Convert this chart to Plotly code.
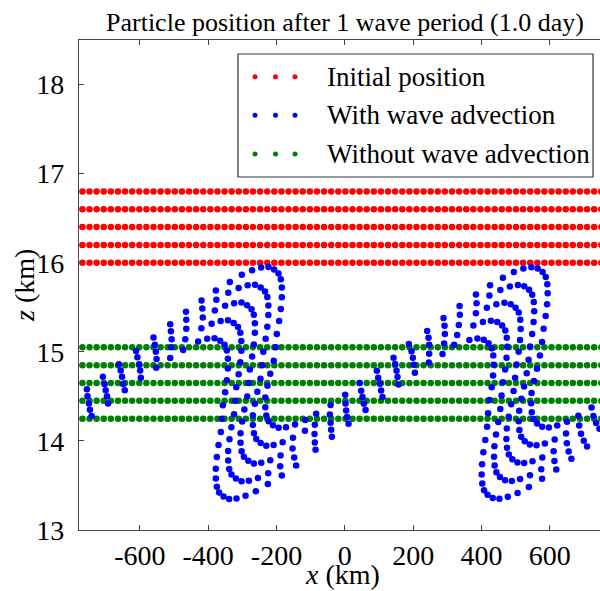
import plotly.graph_objects as go

# ---------------- data (km) ----------------
x_grid = [-768, -747.2, -726.4, -705.6, -684.8, -664, -643.2, -622.4, -601.6, -580.8,
          -560, -539.2, -518.4, -497.6, -476.8, -456, -435.2, -414.4, -393.6, -372.8,
          -352, -331.2, -310.4, -289.6, -268.8, -248, -227.2, -206.4, -185.6, -164.8,
          -144, -123.2, -102.4, -81.6, -60.8, -40, -19.2, 1.6, 22.4, 43.2,
          64, 84.8, 105.6, 126.4, 147.2, 168, 188.8, 209.6, 230.4, 251.2,
          272, 292.8, 313.6, 334.4, 355.2, 376, 396.8, 417.6, 438.4, 459.2,
          480, 500.8, 521.6, 542.4, 563.2, 584, 604.8, 625.6, 646.4, 667.2,
          688, 708.8, 729.6, 750.4, 771.2]
initial_levels = [16.0, 16.2, 16.4, 16.6, 16.8]
no_wave_levels = [14.25, 14.45, 14.65, 14.85, 15.05]

# particles of the top layer (initially 16.8 km) after advection by the wave
wave_top_x = [-755, -708, -661, -611, -560, -511, -465,
              -419.4, -377.6, -336.6, -301.5, -271.4, -245.0, -223.4, -207.0, -194.1, -187.4,
              -184.4, -184.4, -187.4, -192.3, -199.1, -202.0, -208.2, -218.3, -226.5, -232.8,
              -232.8, -229.8, -223.1, -210.2, -193.8, -172.2, -145.8, -115.7,
              -84.0, -41.8, 0.9, 43.0, 93.6, 142.5, 187.3, 240.9, 288.8, 335.7,
              383.7, 425.0, 462.5, 494.6, 522.4, 546.0, 564.4, 578.7, 587.9, 592.4,
              593.6, 591.8, 587.7, 581.6, 577.2, 571.0, 562.4, 553.5, 546.4, 545.2,
              547.0, 552.2, 562.6, 577.6, 597.2, 621.6, 650.3, 683.4, 722.0, 763.5]
wave_top_z = [14.58, 14.72, 14.86, 15.01, 15.16, 15.31, 15.45,
              15.575, 15.687, 15.785, 15.864, 15.916, 15.946, 15.953, 15.923, 15.878, 15.815,
              15.721, 15.613, 15.482, 15.347, 15.201, 15.050, 14.899, 14.753, 14.618, 14.487,
              14.379, 14.285, 14.222, 14.177, 14.147, 14.154, 14.184, 14.236,
              14.305, 14.403, 14.519, 14.650, 14.788, 14.934, 15.088, 15.233, 15.379, 15.514,
              15.642, 15.746, 15.832, 15.895, 15.934, 15.950, 15.935, 15.896, 15.840, 15.759,
              15.656, 15.534, 15.401, 15.259, 15.110, 14.959, 14.811, 14.672, 14.539, 14.422,
              14.323, 14.247, 14.195, 14.159, 14.151, 14.172, 14.215, 14.283, 14.374, 14.480]

# layer initially at 16.6 km
wave_l4_x = [-753, -703, -656, -607, -556, -509, -464,
             -417.1, -376.1, -341.0, -310.9, -284.5, -262.9, -246.5, -233.6, -226.9, -223.9,
             -223.9, -226.9, -231.8, -238.6, -241.5, -246.9, -256.2, -263.5, -269.0, -269.0,
             -266.0, -259.3, -246.4, -230.0, -208.4, -182.0, -151.9, -116.8,
             -87.8, -43.9, 2.0, 47.7, 97.5, 147.2, 195.2, 244.9, 291.8, 336.5,
             385.5, 423.0, 455.1, 482.9, 506.5, 524.9, 539.2, 548.4, 552.9, 554.1,
             552.3, 548.2, 542.1, 537.7, 532.3, 524.5, 516.5, 510.2, 509.0, 510.8,
             516.0, 526.4, 541.4, 561.0, 585.4, 614.1, 647.2, 685.8, 727.3, 771.6]
wave_l4_z = [14.50, 14.64, 14.79, 14.94, 15.08, 15.23, 15.36,
             15.487, 15.585, 15.664, 15.716, 15.746, 15.753, 15.723, 15.678, 15.615, 15.521,
             15.413, 15.282, 15.147, 15.001, 14.850, 14.699, 14.553, 14.418, 14.287, 14.179,
             14.085, 14.022, 13.977, 13.947, 13.954, 13.984, 14.036, 14.115,
             14.182, 14.297, 14.421, 14.563, 14.709, 14.863, 15.005, 15.158, 15.293, 15.416,
             15.546, 15.632, 15.695, 15.734, 15.750, 15.735, 15.696, 15.640, 15.559, 15.456,
             15.334, 15.201, 15.059, 14.910, 14.759, 14.611, 14.472, 14.339, 14.222, 14.123,
             14.047, 13.995, 13.959, 13.951, 13.972, 14.015, 14.083, 14.174, 14.280, 14.401]

# layer initially at 16.4 km
wave_l3_x = [-749, -700, -652, -602, -553, -507, -464,
             -415.6, -380.5, -350.4, -324.0, -302.4, -286.0, -273.1, -266.4, -263.4,
             -263.4, -266.4, -271.3, -278.1, -281.0, -285.6, -294.0, -300.6, -305.2, -305.2,
             -302.2, -295.5, -282.6, -266.2, -244.6, -218.2, -188.1, -153.0,
             -88.7, -41.8, 3.8, 51.8, 102.4, 151.3, 199.0, 246.7, 292.7, 333.6,
             383.5, 415.6, 443.4, 467.0, 485.4, 499.7, 508.9, 513.4, 514.6, 512.8,
             508.7, 502.6, 498.2, 493.7, 486.7, 479.5, 474.0, 472.8, 474.6, 479.8,
             490.2, 505.2, 524.8, 549.2, 577.9, 611.0, 649.6, 691.1, 735.4, 781.3]
wave_l3_z = [14.42, 14.57, 14.72, 14.86, 15.00, 15.14, 15.26,
             15.385, 15.464, 15.516, 15.546, 15.553, 15.523, 15.478, 15.415, 15.321,
             15.213, 15.082, 14.947, 14.801, 14.650, 14.499, 14.353, 14.218, 14.087, 13.979,
             13.885, 13.822, 13.777, 13.747, 13.754, 13.784, 13.836, 13.915,
             14.077, 14.204, 14.342, 14.493, 14.642, 14.788, 14.934, 15.080, 15.200, 15.301,
             15.432, 15.495, 15.534, 15.550, 15.535, 15.496, 15.440, 15.359, 15.256, 15.134,
             15.001, 14.859, 14.710, 14.559, 14.411, 14.272, 14.139, 14.022, 13.923, 13.847,
             13.795, 13.759, 13.751, 13.772, 13.815, 13.883, 13.974, 14.080, 14.201, 14.337]

# layer initially at 16.2 km
wave_l2_x = [-746, -696, -649, -599, -551, -508, -467,
             -420.0, -389.9, -363.5, -341.9, -325.5, -312.6, -305.9, -302.9, -302.9,
             -305.9, -310.8, -317.6, -320.5, -324.2, -331.9, -337.6, -341.4, -341.4,
             -338.4, -331.7, -318.8, -302.4, -280.8, -254.4, -224.3, -189.2, -148.2,
             -87.8, -40.1, 6.7, 55.6, 106.2, 154.2, 201.9, 246.7, 290.6, 328.7,
             376.1, 403.9, 427.5, 445.9, 460.2, 469.4, 473.9, 475.1, 473.3, 469.2,
             463.1, 458.7, 455.0, 448.9, 442.4, 437.8, 436.6, 438.4, 443.6, 454.0,
             469.0, 488.6, 513.0, 541.7, 574.8, 613.4, 654.9, 699.2, 745.1]
wave_l2_z = [14.35, 14.50, 14.64, 14.79, 14.92, 15.05, 15.14,
             15.264, 15.316, 15.346, 15.353, 15.323, 15.278, 15.215, 15.121, 15.013,
             14.882, 14.747, 14.601, 14.450, 14.299, 14.153, 14.018, 13.887, 13.779,
             13.685, 13.622, 13.577, 13.547, 13.554, 13.584, 13.636, 13.715, 13.813,
             13.983, 14.126, 14.268, 14.418, 14.567, 14.717, 14.855, 14.979, 15.094, 15.189,
             15.295, 15.334, 15.350, 15.335, 15.296, 15.240, 15.159, 15.056, 14.934, 14.801,
             14.659, 14.510, 14.359, 14.211, 14.072, 13.939, 13.822, 13.723, 13.647, 13.595,
             13.559, 13.551, 13.572, 13.615, 13.683, 13.774, 13.880, 14.001, 14.137]

# bottom layer (initially 16.0 km)
wave_bottom_x = [-741, -693, -644, -597, -552, -511, -473,
                 -429.4, -403.0, -381.4, -365.0, -352.1, -345.4, -342.4, -342.4, -345.4,
                 -350.3, -357.1, -360.0, -362.9, -369.7, -374.6, -377.6, -377.6, -374.6,
                 -367.9, -355.0, -338.6, -317.0, -290.6, -260.5, -225.4, -184.4, -142.6,
                 -85.7, -38.0, 10.8, 60.6, 110.3, 157.2, 204.9, 245.8, 285.9, 319.9,
                 364.4, 388.0, 406.4, 420.7, 429.9, 434.4, 435.6, 433.8, 429.7, 423.6,
                 419.2, 416.3, 411.0, 405.4, 401.6, 400.4, 402.2, 407.4, 417.8, 432.8,
                 452.4, 476.8, 505.5, 538.6, 577.2, 618.7, 663.0, 708.9, 756.5]
wave_bottom_z = [14.28, 14.42, 14.57, 14.71, 14.82, 14.93, 15.02,
                 15.116, 15.146, 15.153, 15.123, 15.078, 15.015, 14.921, 14.813, 14.682,
                 14.547, 14.401, 14.250, 14.099, 13.953, 13.818, 13.687, 13.579, 13.485,
                 13.422, 13.377, 13.347, 13.354, 13.384, 13.436, 13.515, 13.613, 13.725,
                 13.901, 14.047, 14.193, 14.347, 14.493, 14.634, 14.765, 14.881, 14.975, 15.080,
                 15.134, 15.150, 15.135, 15.096, 15.040, 14.959, 14.856, 14.734, 14.601, 14.459,
                 14.310, 14.159, 14.011, 13.872, 13.739, 13.622, 13.523, 13.447, 13.395, 13.359,
                 13.351, 13.372, 13.415, 13.483, 13.574, 13.680, 13.801, 13.937, 14.083]

series_names = ["Initial position", "With wave advection", "Without wave advection"]
series_colors = ["#ff0000", "#0000ff", "#008000"]
x_ticks = [-600, -400, -200, 0, 200, 400, 600]
x_ticklabels = ["-600", "-400", "-200", "0", "200", "400", "600"]
y_ticks = [13, 14, 15, 16, 17, 18]
y_ticklabels = ["13", "14", "15", "16", "17", "18"]
x_label = "<i>x</i> (km)"
y_label = "<i>z</i> (km)"
title_text = "Particle position after 1 wave period (1.0 day)"

# ---------------- build ----------------
red_x = [x for z in initial_levels for x in x_grid]
red_z = [z for z in initial_levels for x in x_grid]
green_x = [x for z in no_wave_levels for x in x_grid]
green_z = [z for z in no_wave_levels for x in x_grid]
blue_x = wave_top_x + wave_l4_x + wave_l3_x + wave_l2_x + wave_bottom_x
blue_z = wave_top_z + wave_l4_z + wave_l3_z + wave_l2_z + wave_bottom_z

FONT = "Liberation Serif"
W, H = 600, 591
ML, MR, MT, MB = 79, 0, 40, 61
PW, PH = W - ML - MR, H - MT - MB

fig = go.Figure()
mk = dict(size=6.5, line=dict(width=0))
fig.add_trace(go.Scatter(x=red_x, y=red_z, mode="markers", name=series_names[0],
                         marker=dict(color=series_colors[0], **mk), showlegend=False))
fig.add_trace(go.Scatter(x=green_x, y=green_z, mode="markers", name=series_names[2],
                         marker=dict(color=series_colors[2], **mk), showlegend=False))
fig.add_trace(go.Scatter(x=blue_x, y=blue_z, mode="markers", name=series_names[1],
                         marker=dict(color=series_colors[1], **mk), showlegend=False))


def px_x(p):
    return (p - ML) / PW


def px_y(p):
    return (H - MB - p) / PH


# legend drawn as in the reference (three dots per entry)
shapes = [dict(type="rect", xref="paper", yref="paper",
               x0=px_x(238), x1=px_x(593), y0=px_y(177), y1=px_y(54),
               line=dict(color="#333333", width=1.2), fillcolor="white", layer="above")]
annotations = []
legend_rows = [76.7, 115.3, 154.0]
for row_y, idx in zip(legend_rows, [0, 1, 2]):
    for dx in (255, 275.5, 295):
        shapes.append(dict(type="circle", xref="paper", yref="paper",
                           xsizemode="pixel", ysizemode="pixel",
                           xanchor=px_x(dx), yanchor=px_y(row_y),
                           x0=-2.5, x1=2.5, y0=-2.5, y1=2.5,
                           fillcolor=series_colors[idx], line=dict(width=0), layer="above"))
    annotations.append(dict(xref="paper", yref="paper", x=px_x(325), y=px_y(row_y),
                            xanchor="left", yanchor="middle", showarrow=False,
                            text=series_names[idx],
                            font=dict(family=FONT, size=27, color="black")))

# axis titles
annotations.append(dict(xref="paper", yref="paper", x=px_x(342), y=px_y(574),
                        xanchor="center", yanchor="middle", showarrow=False,
                        text=x_label, font=dict(family=FONT, size=28, color="black")))
annotations.append(dict(xref="paper", yref="paper", x=px_x(24), y=px_y(286),
                        xanchor="center", yanchor="middle", showarrow=False, textangle=-90,
                        text=y_label, font=dict(family=FONT, size=28, color="black")))

axis_common = dict(showgrid=False, zeroline=False, showline=True, linecolor="#444444",
                   linewidth=1.3, ticks="inside", ticklen=5, tickcolor="#444444",
                   tickfont=dict(family=FONT, size=28, color="black"))

fig.update_layout(
    width=W, height=H,
    font=dict(family=FONT, color="black"),
    margin=dict(l=ML, r=MR, t=MT, b=MB, autoexpand=False),
    paper_bgcolor="white", plot_bgcolor="white",
    title=dict(text=title_text, x=px_x(345), xref="paper", xanchor="center",
               y=1 - 22 / H, yref="container", yanchor="middle",
               font=dict(family=FONT, size=26, color="black")),
    xaxis=dict(range=[-778, -778 + PW / 0.3417], tickvals=x_ticks, ticktext=x_ticklabels,
               mirror="ticks", **axis_common),
    yaxis=dict(range=[13, 18.5], tickvals=y_ticks,
               ticktext=[t + "\u2009\u200a" for t in y_ticklabels],
               mirror=False, **axis_common),
    shapes=shapes,
    annotations=annotations,
    showlegend=False,
)

fig.write_html("out.html")
